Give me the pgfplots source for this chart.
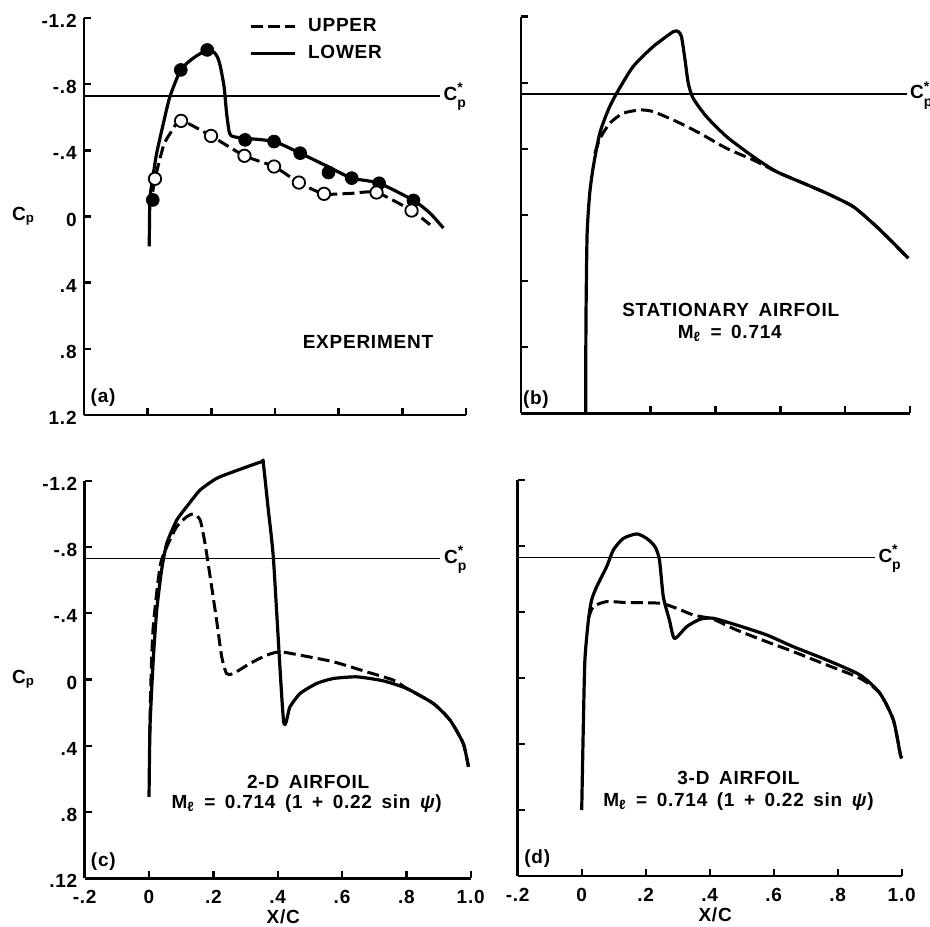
\documentclass[border=0pt]{standalone}
\usepackage{fontspec}
\setmainfont{Liberation Sans}
\newfontfamily\labfont[LetterSpace=4]{Liberation Sans}
\newcommand\labsetup{\labfont\bfseries\fontsize{9.5}{11.5}\selectfont\spaceskip=0.5em\relax}
\newcommand\ticksetup{\labfont\bfseries\fontsize{9.5}{11}\selectfont}
\newcommand\cpstarlabel{C\begin{tabular}[c]{@{}l@{}}\scriptsize *\\[-4pt]\scriptsize p\end{tabular}}
\usepackage{pgfplots}
\pgfplotsset{compat=1.18}
\tikzset{
  solidc/.style={line width=1.6pt, black, line join=round},
  dashc/.style={line width=1.5pt, black, dash pattern=on 6pt off 2.6pt},
  cpstar/.style={line width=0.9pt, black},
  lab/.style={font=\labsetup, align=center},
}
\pgfplotsset{
  panel/.style={
    scale only axis, axis x line*=bottom, axis y line*=left,
    xmin=-0.2, xmax=1.0, ymin=-1.2, ymax=1.2,
    xtick={-0.2,0,0.2,0.4,0.6,0.8,1.0},
    ytick={-1.2,-0.8,-0.4,0,0.4,0.8,1.2},
    xticklabels={}, yticklabels={},
    tick align=inside, major tick length=3.5pt,
    axis line style={line width=1.3pt, black},
    every tick/.style={line width=1.2pt, black},
    clip=false,
    tick label style={font=\ticksetup},
    yticklabel style={anchor=east, inner sep=1pt, xshift=-2.5pt, yshift=-1.5pt},
    xticklabel style={anchor=north, inner sep=1pt, yshift=-5pt},
  },
}
\begin{document}
\bfseries
\begin{tikzpicture}
\path[use as bounding box] (0,0) rectangle (465pt,463pt);

% ---------------- (a) ----------------
\begin{axis}[panel, anchor=south west, at={(42pt,255.5pt)}, width=191pt, height=198.5pt,
  yticklabels={1.2,.8,.4,0,-.4,-.8,-1.2},
  legend style={at={(0.415,1.02)}, anchor=north west, draw=none, fill=none,
    font=\ticksetup, row sep=1.5pt},
  legend cell align=left,
  legend image code/.code={\draw[#1] (0pt,0pt) -- (22pt,0pt); \path (26pt,0pt);}]
\addplot[cpstar, forget plot] coordinates {(-0.2,0.73) (0.918,0.73)};
\addplot[solidc, smooth, tension=0.4, forget plot] table[y expr=-\thisrow{cp}] {
x cp
0.005 0.18
0.007 -0.10
0.015 -0.22
0.028 -0.38
0.049 -0.56
0.070 -0.725
0.104 -0.886
0.143 -0.957
0.187 -1.007
0.210 -0.99
0.220 -0.96
0.228 -0.910
0.240 -0.785
0.248 -0.624
0.257 -0.504
0.269 -0.483
0.306 -0.473
0.397 -0.453
0.479 -0.383
0.568 -0.30
0.641 -0.232
0.727 -0.201
0.835 -0.097
0.887 -0.02
0.929 0.07
};
\addplot[dashc, smooth, tension=0.4, forget plot] table[y expr=-\thisrow{cp}] {
x cp
0.016 -0.15
0.023 -0.228
0.049 -0.423
0.070 -0.50
0.105 -0.578
0.199 -0.487
0.304 -0.367
0.397 -0.302
0.475 -0.205
0.554 -0.137
0.640 -0.140
0.719 -0.145
0.829 -0.036
0.887 0.05
};
\addplot[only marks, mark=*, mark size=3.2pt, mark options={solid, fill=black, draw=black}, forget plot]
 table[y expr=-\thisrow{cp}] {
x cp
0.016 -0.10
0.104 -0.886
0.187 -1.007
0.306 -0.463
0.397 -0.453
0.479 -0.383
0.568 -0.266
0.641 -0.232
0.727 -0.201
0.835 -0.097
};
\addplot[only marks, mark=*, mark size=3.1pt, mark options={solid, fill=white, draw=black, line width=0.9pt}, forget plot]
 table[y expr=-\thisrow{cp}] {
x cp
0.023 -0.228
0.105 -0.578
0.199 -0.487
0.304 -0.367
0.397 -0.302
0.475 -0.205
0.554 -0.137
0.719 -0.145
0.829 -0.036
};
\addlegendimage{dashc}
\addlegendentry{UPPER}
\addlegendimage{solidc}
\addlegendentry{LOWER}
\node[lab, anchor=west, inner sep=1pt] at (axis cs:0.922,0.73) {\cpstarlabel};
\node[lab] at (axis cs:-0.39,0) {C\textsubscript{p}};
\node[lab] at (axis cs:0.692,-0.757) {EXPERIMENT};
\node[lab] at (axis cs:-0.14,-1.095) {(a)};
\end{axis}

% ---------------- (b) ----------------
\begin{axis}[panel, anchor=south west, at={(260.5pt,256.35pt)}, width=194.5pt, height=198.35pt]
\addplot[cpstar] coordinates {(-0.2,0.73) (0.99,0.73)};
\addplot[solidc, smooth, tension=0.4] table[y expr=-\thisrow{cp}] {
x cp
0.000 1.20
0.000 0.80
0.001 0.514
0.004 0.11
0.012 -0.131
0.023 -0.292
0.043 -0.494
0.069 -0.635
0.095 -0.736
0.146 -0.898
0.208 -1.019
0.270 -1.109
0.285 -1.109
0.295 -1.079
0.306 -0.938
0.316 -0.797
0.331 -0.706
0.372 -0.595
0.434 -0.474
0.516 -0.353
0.588 -0.262
0.671 -0.192
0.743 -0.131
0.825 -0.05
0.897 0.071
0.949 0.171
0.995 0.262
};
\addplot[dashc, smooth, tension=0.4] table[y expr=-\thisrow{cp}] {
x cp
0.028 -0.373
0.043 -0.46
0.074 -0.555
0.115 -0.615
0.167 -0.635
0.208 -0.625
0.280 -0.565
0.352 -0.494
0.434 -0.403
0.516 -0.333
0.588 -0.262
0.671 -0.192
0.743 -0.131
0.825 -0.05
0.897 0.071
0.949 0.171
0.995 0.262
};
\node[lab, anchor=west, inner sep=1pt] at (axis cs:0.993,0.73) {\cpstarlabel};
\node[lab] at (axis cs:0.447,-0.575) {STATIONARY AIRFOIL};
\node[lab] at (axis cs:0.444,-0.716) {M\textsubscript{ℓ} = 0.714};
\node[lab] at (axis cs:-0.154,-1.12) {(b)};
\end{axis}

% ---------------- (c) ----------------
\begin{axis}[panel, anchor=south west, at={(42.35pt,23.85pt)}, width=193pt, height=198.8pt,
  xticklabels={-.2,0,.2,.4,.6,.8,1.0},
  yticklabels={.12,.8,.4,0,-.4,-.8,-1.2}]
\addplot[cpstar] coordinates {(-0.2,0.73) (0.905,0.73)};
\addplot[solidc, smooth, tension=0.35] table[y expr=-\thisrow{cp}] {
x cp
0.000 0.709
0.003 0.286
0.013 -0.117
0.024 -0.419
0.039 -0.66
0.055 -0.821
0.086 -0.962
0.117 -1.043
0.159 -1.144
0.210 -1.214
0.262 -1.254
0.350 -1.315
0.355 -1.31
0.371 -1.02
0.387 -0.721
0.418 0.246
0.438 0.165
0.469 0.085
0.521 0.024
0.573 -0.006
0.646 -0.016
0.728 0.008
0.801 0.054
0.884 0.145
0.936 0.246
0.977 0.387
0.993 0.527
};
\addplot[dashc, smooth, tension=0.4] table[y expr=-\thisrow{cp}] {
x cp
0.002 0.35
0.006 0.0
0.013 -0.318
0.034 -0.68
0.055 -0.80
0.086 -0.922
0.117 -0.982
0.138 -0.999
0.159 -0.962
0.174 -0.821
0.190 -0.62
0.210 -0.358
0.226 -0.137
0.241 -0.036
0.262 -0.036
0.314 -0.097
0.366 -0.147
0.407 -0.167
0.469 -0.147
0.573 -0.107
0.677 -0.046
0.760 0.004
0.801 0.054
0.884 0.145
0.936 0.246
0.977 0.387
0.993 0.527
};
\node[lab, anchor=west, inner sep=1pt] at (axis cs:0.91,0.73) {\cpstarlabel};
\node[lab] at (axis cs:-0.39,0) {C\textsubscript{p}};
\node[lab] at (axis cs:0.495,-0.618) {2-D AIRFOIL};
\node[lab] at (axis cs:0.49,-0.749) {M\textsubscript{ℓ} = 0.714 (1 + 0.22 sin \textit{ψ})};
\node[lab] at (axis cs:-0.142,-1.10) {(c)};
\node[lab] at (axis cs:0.417,-1.435) {X/C};
\end{axis}

% ---------------- (d) ----------------
\begin{axis}[panel, anchor=south west, at={(258.85pt,25pt)}, width=192pt, height=198pt,
  xticklabels={-.2,0,.2,.4,.6,.8,1.0}]
\addplot[cpstar] coordinates {(-0.2,0.73) (0.917,0.73)};
\addplot[solidc, smooth, tension=0.4] table[y expr=-\thisrow{cp}] {
x cp
0.000 0.80
0.005 0.295
0.010 -0.109
0.021 -0.352
0.031 -0.473
0.047 -0.554
0.078 -0.675
0.099 -0.776
0.130 -0.846
0.172 -0.873
0.203 -0.846
0.229 -0.796
0.243 -0.715
0.255 -0.493
0.274 -0.352
0.290 -0.24
0.328 -0.311
0.370 -0.356
0.411 -0.362
0.484 -0.321
0.578 -0.261
0.661 -0.19
0.766 -0.109
0.870 -0.018
0.932 0.093
0.974 0.255
0.995 0.457
1.000 0.487
};
\addplot[dashc, smooth, tension=0.4] table[y expr=-\thisrow{cp}] {
x cp
0.021 -0.36
0.036 -0.432
0.078 -0.463
0.141 -0.457
0.245 -0.453
0.297 -0.422
0.349 -0.382
0.411 -0.356
0.484 -0.291
0.578 -0.22
0.661 -0.16
0.766 -0.079
0.870 0.002
0.932 0.093
0.974 0.255
0.995 0.457
1.000 0.487
};
\node[lab, anchor=west, inner sep=1pt] at (axis cs:0.92,0.73) {\cpstarlabel};
\node[lab] at (axis cs:0.49,-0.608) {3-D AIRFOIL};
\node[lab] at (axis cs:0.49,-0.749) {M\textsubscript{ℓ} = 0.714 (1 + 0.22 sin \textit{ψ})};
\node[lab] at (axis cs:-0.139,-1.093) {(d)};
\node[lab] at (axis cs:0.417,-1.435) {X/C};
\end{axis}
\end{tikzpicture}
\end{document}
